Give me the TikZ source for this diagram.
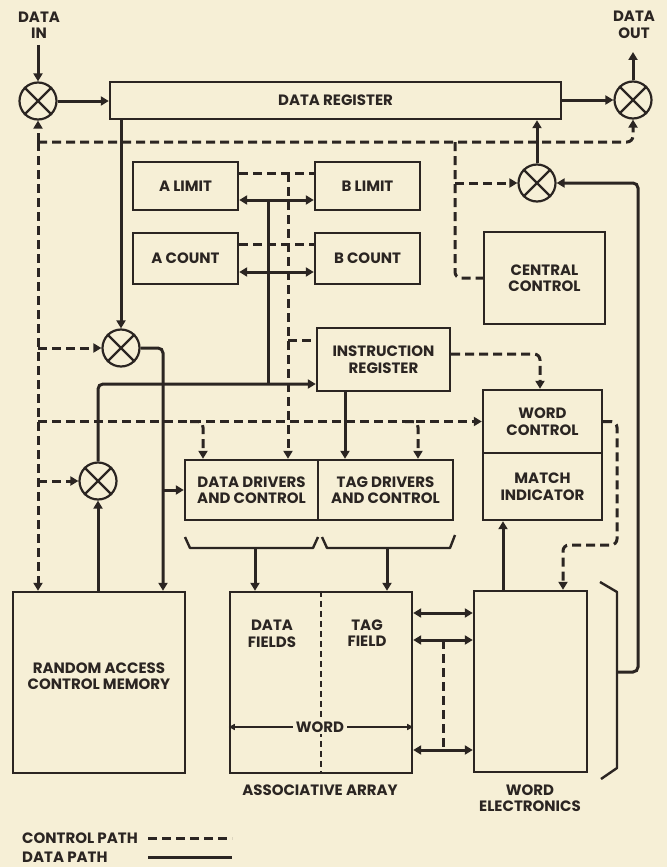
\documentclass[tikz,border=0pt]{standalone}
\usepackage{fontspec}
\setmainfont{Poppins}
\usetikzlibrary{arrows.meta}
\definecolor{ink}{HTML}{2B2522}
\definecolor{paper}{HTML}{F6EFD6}
\begin{document}
\begin{tikzpicture}[x=1pt,y=-1pt,
  every node/.style={font=\fontsize{15}{16.5}\selectfont\bfseries, text=ink, align=center, inner sep=0pt},
  box/.style={draw=ink, line width=2.4pt},
  mix/.style={draw=ink, circle, line width=2.2pt, minimum size=37pt},
  dpath/.style={draw=ink, line width=3pt},
  cpath/.style={draw=ink, line width=3pt, dash pattern=on 9pt off 5pt},
  tip/.style={-{Triangle[length=8pt,width=9pt]}},
  dtip/.style={{Triangle[length=8pt,width=9pt]}-{Triangle[length=8pt,width=9pt]}},
  brk/.style={draw=ink, line width=2.4pt, line join=round}
]
\fill[paper] (0,0) rectangle (667,867);
\useasboundingbox (0,0) rectangle (667,867);

% boxes
\node[box,minimum width=451pt,minimum height=37pt] (dr) at (335.5,100.5) {DATA REGISTER};
\node[box,minimum width=105pt,minimum height=48pt] (al) at (185.5,186) {A LIMIT};
\node[box,minimum width=105pt,minimum height=48pt] (bl) at (367.5,186) {B LIMIT};
\node[box,minimum width=105pt,minimum height=51pt] (ac) at (185.5,258.5) {A COUNT};
\node[box,minimum width=105pt,minimum height=51pt] (bc) at (367.5,258.5) {B COUNT};
\node[box,minimum width=121pt,minimum height=92pt] (cc) at (544.5,278) {CENTRAL\\CONTROL};
\node[box,minimum width=133pt,minimum height=63pt] (ir) at (383.5,359.5) {INSTRUCTION\\REGISTER};
\node[box,minimum width=119pt,minimum height=63pt] (wc) at (542.5,421.5) {WORD\\CONTROL};
\node[box,minimum width=119pt,minimum height=67pt] (mi) at (542.5,486.5) {MATCH\\INDICATOR};
\node[box,minimum width=133pt,minimum height=60pt] (dd) at (251.5,490) {DATA DRIVERS\\AND CONTROL};
\node[box,minimum width=135pt,minimum height=60pt] (td) at (385.5,490) {TAG DRIVERS\\AND CONTROL};
\node[box,minimum width=172pt,minimum height=181pt] (racm) at (99,682.5) {};
\node (racmt) at (99,676) {RANDOM ACCESS\\CONTROL MEMORY};
\node[box,minimum width=182pt,minimum height=181pt] (aa) at (321,682.5) {};
\node (df) at (272,634) {DATA\\FIELDS};
\node (tf) at (367,633) {TAG\\FIELD};
\node[box,minimum width=113pt,minimum height=181pt] (we) at (530.5,681.5) {};
\node (aal) at (320,790) {ASSOCIATIVE ARRAY};
\node (wel) at (530,798) {WORD\\ELECTRONICS};
\node (dinl) at (39,25) {DATA\\IN};
\node (doutl) at (634,25) {DATA\\OUT};

% mixers
\node[mix] (cin) at (38,101) {};
\node[mix] (cout) at (633,100) {};
\node[mix] (cmid) at (537,183) {};
\node[mix] (cup) at (121,348) {};
\node[mix] (clow) at (98,481) {};
\foreach \c in {cin,cout,cmid,cup,clow}
  \draw[ink,line width=2.2pt] (\c.45) -- (\c.225) (\c.135) -- (\c.315);

% coordinates
\coordinate (din) at (38,45);
\coordinate (dout) at (633,52);
\coordinate (cj) at (38,142);
\coordinate (ccj) at (455,142);
\coordinate (rcx) at (163,348);
\coordinate (vb) at (268,384);
\coordinate (lim) at (288,173);
\coordinate (brkm) at (617,672);
\coordinate (fb) at (638,672);

% data paths
\draw[dpath,tip] (din) -- (cin.north);
\draw[dpath,tip] (cin.east) -- (cin.east -| dr.west);
\draw[dpath,tip] (dr.east |- cout) -- (cout.west);
\draw[dpath,tip] (cout.north) -- (dout);
\draw[dpath,tip] (cmid.north) -- (cmid.north |- dr.south);
\draw[dpath,tip,rounded corners=5] (brkm) -- (fb) -- (fb |- cmid) -- (cmid.east);
\draw[dpath,tip] (dr.south -| cup) -- (cup.north);
\draw[dpath,tip,rounded corners=5] (cup.east) -- (rcx) -- (rcx |- racm.north);
\draw[dpath,tip] (rcx |- dd.west) -- (dd.west);
\draw[dpath,tip] (clow |- racm.north) -- (clow.south);
\draw[dpath,tip,rounded corners=5] (clow.north) -- (clow |- vb) -- (vb -| ir.west);
\draw[dpath] (vb) -- (268,200);
\draw[dpath,dtip] (al.east |- 0,200) -- (bl.west |- 0,200);
\draw[dpath,dtip] (ac.east |- 0,272) -- (bc.west |- 0,272);
\draw[dpath,tip] (ir.south -| 345,0) -- (td.north -| 345,0);
\draw[dpath,tip] (255,548) -- (aa.north -| 255,0);
\draw[dpath,tip] (387,548) -- (aa.north -| 387,0);
\draw[dpath,tip] (we.north -| 503,0) -- (mi.south -| 503,0);
\draw[dpath,dtip] (aa.east |- 0,613) -- (we.west |- 0,613);
\draw[dpath,dtip] (aa.east |- 0,640) -- (we.west |- 0,640);
\draw[dpath,dtip] (aa.east |- 0,750) -- (we.west |- 0,750);

% control paths
\draw[cpath,tip] (cj) -- (cin.south);
\draw[cpath,tip] (cj) -- (cj |- racm.north);
\draw[cpath,tip,rounded corners=6] (cj) -| (cout.south);
\draw[cpath,rounded corners=6] (ccj) |- (cc.west);
\draw[cpath,tip] (ccj |- cmid) -- (cmid.west);
\draw[cpath] (al.east |- lim) -- (bl.west |- lim);
\draw[cpath] (ac.east |- 0,244) -- (bc.west |- 0,244);
\draw[cpath,tip] (lim) -- (dd.north -| lim);
\draw[cpath] (lim |- 0,340) -- (ir.west |- 0,340);
\draw[cpath,tip] (cj |- cup) -- (cup.west);
\draw[cpath,tip] (cj |- clow) -- (clow.west);
\draw[cpath,tip] (cj |- wc.west) -- (wc.west);
\draw[cpath,tip,rounded corners=6] (190,421.5) -| (dd.north -| 203,0);
\draw[cpath,tip,rounded corners=6] (405,421.5) -| (td.north -| 418,0);
\draw[cpath,tip,rounded corners=6] (ir.east |- 0,354) -| (wc.north -| 540,0);
\draw[cpath,tip,rounded corners=6] (wc.east) -- (617,421.5) -- (617,545) -- (563,545) -- (we.north -| 563,0);
\draw[cpath] (443,640) -- (443,750);
\draw[draw=ink,line width=1.6pt,dash pattern=on 6pt off 4pt] (aa.north) -- (aa.south);

% word label inside the array
\node[fill=paper,inner xsep=3pt,inner ysep=2pt] (wd) at (320,727) {WORD};
\draw[ink,line width=2pt,-{Triangle[length=6pt,width=6pt]}] (wd.west) -- (wd.west -| aa.west);
\draw[ink,line width=2pt,-{Triangle[length=6pt,width=6pt]}] (wd.east) -- (wd.east -| aa.east);

% brackets
\draw[brk] (185,537) -- (190,548) -- (313,548) -- (318,537);
\draw[brk] (322,537) -- (327,548) -- (450,548) -- (455,535);
\draw[brk] (600,582) -- (617,592) -- (617,768) -- (601,779);

% legend
\node[anchor=west] (lc) at (22,838) {CONTROL PATH};
\node[anchor=west] (ld) at (22,857) {DATA PATH};
\draw[cpath] (148,838) -- (232,838);
\draw[dpath] (148,857) -- (232,857);
\end{tikzpicture}
\end{document}
